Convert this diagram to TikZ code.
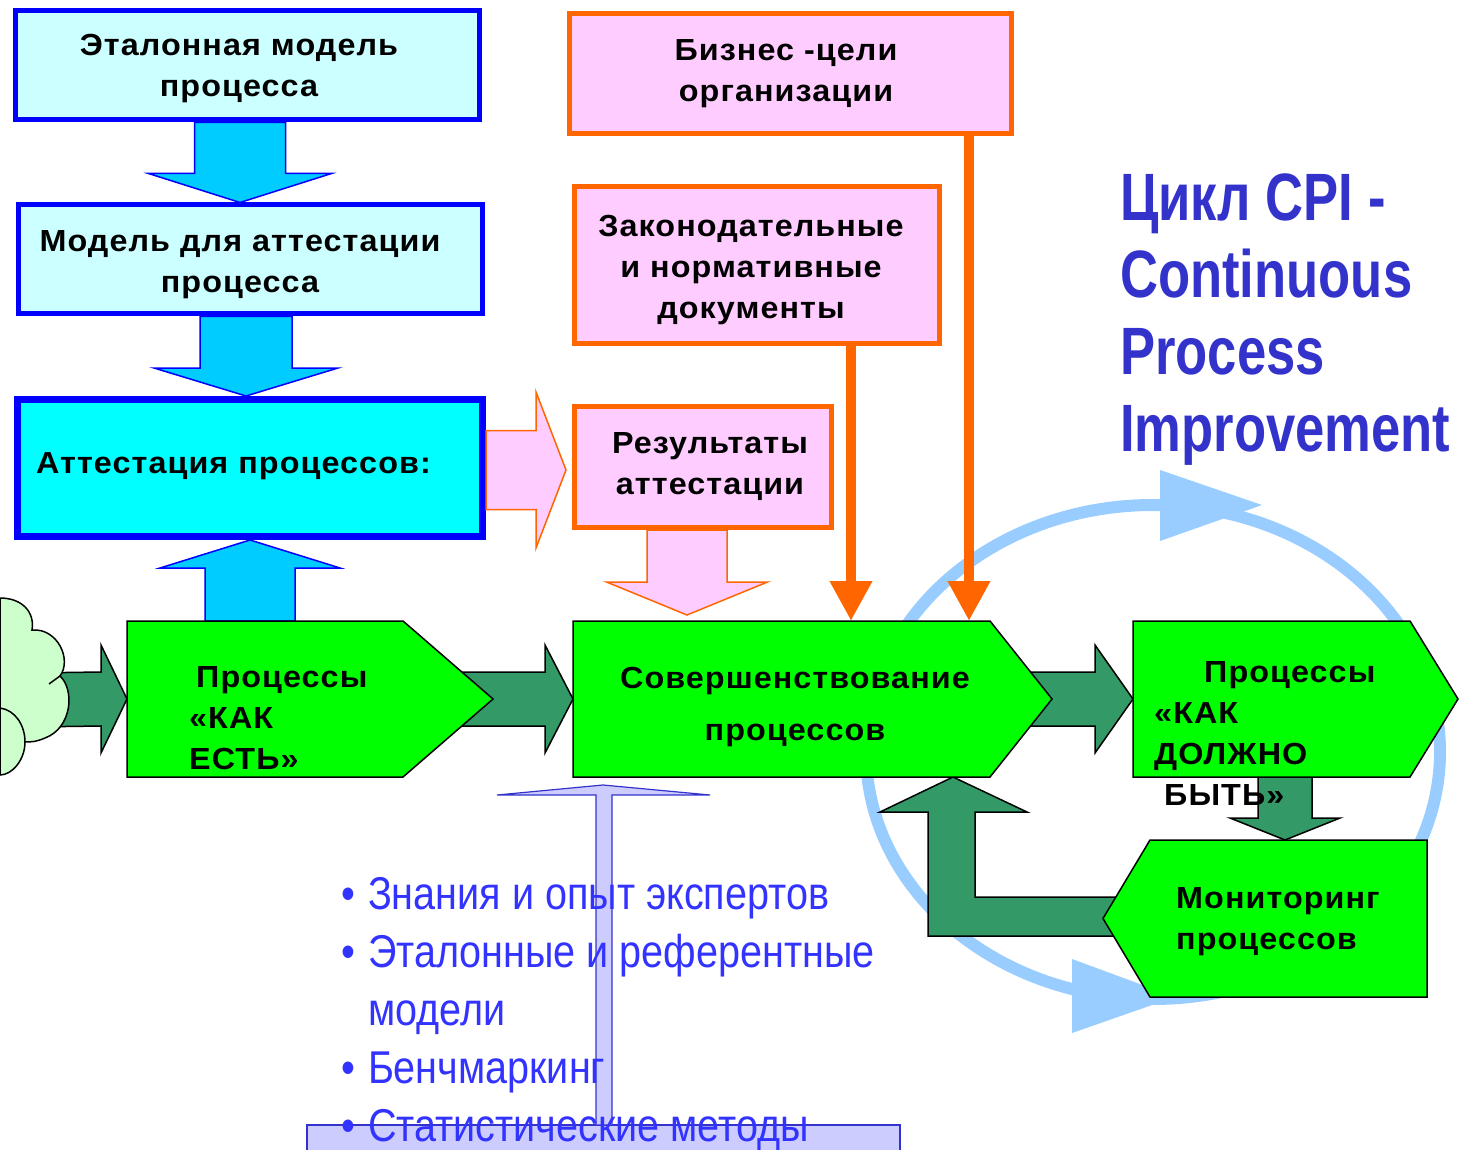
\documentclass[tikz,border=0pt]{standalone}
\usepackage{fontspec}
\setmainfont{Liberation Sans}
\newfontfamily\spacedfont[LetterSpace=3.5,FakeStretch=1.06]{Liberation Sans}
\newfontfamily\narrowfont[FakeStretch=0.86]{Liberation Sans}
\newfontfamily\titlefont[FakeStretch=0.785]{Liberation Sans}
\usetikzlibrary{calc,arrows.meta}

\definecolor{paleCyan}{HTML}{CCFFFF}
\definecolor{brightCyan}{HTML}{00FFFF}
\definecolor{skyArrow}{HTML}{00CCFF}
\definecolor{frameBlue}{HTML}{0000FF}
\definecolor{paleRose}{HTML}{FFCCFF}
\definecolor{flameOrange}{HTML}{FF6600}
\definecolor{leafGreen}{HTML}{00FF00}
\definecolor{seaGreen}{HTML}{339966}
\definecolor{mintGreen}{HTML}{CCFFCC}
\definecolor{ringBlue}{HTML}{99CCFF}
\definecolor{titleBlue}{HTML}{3333CC}
\definecolor{listBlue}{HTML}{3333FF}
\definecolor{lavender}{HTML}{CCCCFF}

% right-pointing block arrow: style, start, tip, half shaft, half head, head length
\newcommand\rightblock[6]{%
  \draw[#1] ($(#2)+(0,-#4)$) -- ($(#3)+(-#6,-#4)$) -- ($(#3)+(-#6,-#5)$) -- (#3)
    -- ($(#3)+(-#6,#5)$) -- ($(#3)+(-#6,#4)$) -- ($(#2)+(0,#4)$) -- cycle;}
% vertical block arrow: style, start, tip, half shaft, half head, signed head length (+ down)
\newcommand\vertblock[6]{%
  \draw[#1] ($(#2)+(-#4,0)$) -- ($(#3)+(-#4,{-1*(#6)})$) -- ($(#3)+(-#5,{-1*(#6)})$) -- (#3)
    -- ($(#3)+(#5,{-1*(#6)})$) -- ($(#3)+(#4,{-1*(#6)})$) -- ($(#2)+(#4,0)$) -- cycle;}

\begin{document}
\begin{tikzpicture}[x=1pt,y=-1pt,
  bluebox/.style={draw=frameBlue, line width=5pt, fill=paleCyan, inner sep=0pt},
  rosebox/.style={draw=flameOrange, line width=5pt, fill=paleRose, inner sep=0pt},
  body/.style={inner sep=0pt, outer sep=0pt},
  skyarrow/.style={draw=frameBlue, line width=1.5pt, fill=skyArrow, line join=miter},
  rosearrow/.style={draw=flameOrange, line width=1.5pt, fill=paleRose, line join=miter},
  darkarrow/.style={draw=black, line width=1.5pt, fill=seaGreen, line join=miter},
  greenshape/.style={draw=black, line width=1.5pt, fill=leafGreen, line join=miter},
  feed/.style={draw=flameOrange, line width=10pt, -{Triangle[width=40pt,length=40pt]}},
  boxtext/.style={font=\spacedfont\bfseries\fontsize{30.5}{41}\selectfont, align=center, inner sep=0pt},
  lefttext/.style={font=\spacedfont\bfseries\fontsize{30.5}{41}\selectfont, align=left, inner sep=0pt},
]
\clip (0,0) rectangle (1462,1150);

% ---- cycle ring (behind everything) ----
\draw[ringBlue, line width=12pt] (1153,752) ellipse [x radius=287pt, y radius=247pt];
\fill[ringBlue] (1160,470) -- (1262,505) -- (1160,541) -- cycle;
\fill[ringBlue] (1072,959) -- (1175,997) -- (1072,1033) -- cycle;

% ---- boxes ----
\node[bluebox, minimum width=464pt, minimum height=109pt] (etalon) at (247,65.5) {};
\node[bluebox, minimum width=464pt, minimum height=109pt] (model) at (250,259.5) {};
\node[bluebox, line width=7pt, fill=brightCyan, minimum width=465pt, minimum height=137pt] (attest) at (250,468) {};
\node[rosebox, minimum width=442pt, minimum height=120pt] (biz) at (790.5,73.5) {};
\node[rosebox, minimum width=365pt, minimum height=157pt] (law) at (757,265) {};
\node[rosebox, minimum width=257pt, minimum height=121pt] (result) at (703,467) {};

\node[boxtext] at (239,69) {Эталонная модель\\процесса};
\node[boxtext] at (240,264.5) {Модель для аттестации\\процесса};
\node[lefttext, anchor=west] at (36,466) {Аттестация процессов:};
\node[boxtext] at (786,74) {Бизнес -цели\\организации};
\node[boxtext] at (751,270) {Законодательные\\и нормативные\\документы};
\node[boxtext] at (710,467) {Результаты\\аттестации};

% bodies of the process shapes
\node[body, minimum width=276pt, minimum height=156pt] (asis) at (265,699) {};
\node[body, minimum width=417pt, minimum height=156pt] (improve) at (781.5,699) {};
\node[body, minimum width=277pt, minimum height=156pt] (tobe) at (1271.5,699) {};
\node[body, minimum width=277pt, minimum height=157pt] (monitor) at (1288.5,918.5) {};
\coordinate (cloudc) at (30,700);

% ---- blue arrows between the model boxes ----
\coordinate (s1) at (240,0 |- etalon.south);  \coordinate (t1) at (240,0 |- model.north);
\vertblock{skyarrow}{s1}{t1}{45.5}{91.5}{29}
\coordinate (s2) at (246,0 |- model.south);   \coordinate (t2) at (246,0 |- attest.north);
\vertblock{skyarrow}{s2}{t2}{46}{92}{28}
\coordinate (s3) at (250,0 |- asis.north);    \coordinate (t3) at (250,0 |- attest.south);
\vertblock{skyarrow}{s3}{t3}{45}{90}{-28}

% ---- rose arrows ----
\coordinate (s4) at (attest.east |- 0,470);   \coordinate (t4) at ($(result.west |- 0,470)+(-6,0)$);
\rightblock{rosearrow}{s4}{t4}{39.5}{78}{30}
\coordinate (s5) at (687,0 |- result.south);  \coordinate (t5) at ($(687,0 |- improve.north)+(0,-6)$);
\vertblock{rosearrow}{s5}{t5}{40}{80.5}{33}

% ---- orange feeds ----
\draw[feed] (851,0 |- law.south) -- (851,0 |- improve.north);
\draw[feed] (969,0 |- biz.south) -- (969,0 |- improve.north);

% ---- dark green flow arrows ----
\rightblock{darkarrow}{cloudc}{asis.west}{27}{54}{26}
\rightblock{darkarrow}{asis.east}{improve.west}{27}{54}{28}
\rightblock{darkarrow}{improve.east}{tobe.west}{27}{54}{38}
\coordinate (s6) at (1285,0 |- tobe.south);   \coordinate (t6) at (1285,0 |- monitor.north);
\vertblock{darkarrow}{s6}{t6}{27}{55}{22}
\draw[darkarrow] (1125,897) -- (975,897) -- (975,812) -- (1027,812) -- (953,0 |- improve.south)
  -- (880,812) -- (928,812) -- (928,936) -- (1125,936) -- cycle;

% ---- cloud ----
\draw[fill=mintGreen, line width=1.5pt] (0,598) .. controls (22,598) and (35,612) .. (32,630)
  .. controls (58,628) and (72,660) .. (60,676)
  .. controls (75,690) and (72,728) .. (45,738)
  .. controls (36,742) and (30,742) .. (25,742)
  .. controls (25,760) and (12,775) .. (0,775) -- cycle;
\draw[line width=1.5pt] (0,708) .. controls (15,710) and (25,725) .. (25,742);
\draw[line width=1.5pt] (49,684) -- (60,676);

% ---- process shapes ----
\draw[greenshape] (asis.north west) -- (asis.north east) -- ($(asis.east)+(90,0)$)
  -- (asis.south east) -- (asis.south west) -- cycle;
\draw[greenshape] (improve.north west) -- (improve.north east) -- ($(improve.east)+(62,0)$)
  -- (improve.south east) -- (improve.south west) -- cycle;
\draw[greenshape] (tobe.north west) -- (tobe.north east) -- ($(tobe.east)+(48,0)$)
  -- (tobe.south east) -- (tobe.south west) -- cycle;
\draw[greenshape] (monitor.north west) -- (monitor.north east) -- (monitor.south east)
  -- (monitor.south west) -- ($(monitor.west)+(-47,0)$) -- cycle;

\node[lefttext, anchor=west] at (189,718) {\hspace*{7pt}Процессы\\«КАК\\ЕСТЬ»};
\node[boxtext, font=\spacedfont\bfseries\fontsize{30.5}{52}\selectfont] at (795,707) {Совершенствование\\процессов};
\node[lefttext, anchor=west] at (1154,734) {\hspace*{50pt}Процессы\\«КАК\\ДОЛЖНО\\\hspace*{10pt}БЫТЬ»};
\node[lefttext, anchor=west] at (1176,922) {Мониторинг\\процессов};

% ---- sources of improvement ----
\node[draw=titleBlue, line width=1.2pt, fill=lavender, minimum width=593pt, minimum height=40pt, inner sep=0pt]
  (base) at (603.5,1145) {};
\coordinate (t7) at ($(603,0 |- improve.south)+(0,8)$);
\draw[draw=titleBlue, line width=1.2pt, fill=lavender]
  (596,0 |- base.north) -- (596,795) -- (497,795) -- (t7) -- (710,795) -- (612,795) -- (612,0 |- base.north);

\node[anchor=north west, inner sep=0pt, text=listBlue, font=\narrowfont\fontsize{46}{58}\selectfont]
  (list) at (341,869) {%
  \begin{tabular}{@{}l@{\hspace{13pt}}l@{}}
  • & Знания и опыт экспертов\\
  • & Эталонные и референтные\\
    & модели\\
  • & Бенчмаркинг\\
  • & Статистические методы
  \end{tabular}};

% ---- title ----
\node[anchor=north west, inner sep=0pt, align=left, text=titleBlue,
  font=\titlefont\bfseries\fontsize{67}{77}\selectfont] (title) at (1120,174)
  {Цикл CPI -\\Continuous\\Process\\Improvement};
\end{tikzpicture}
\end{document}
